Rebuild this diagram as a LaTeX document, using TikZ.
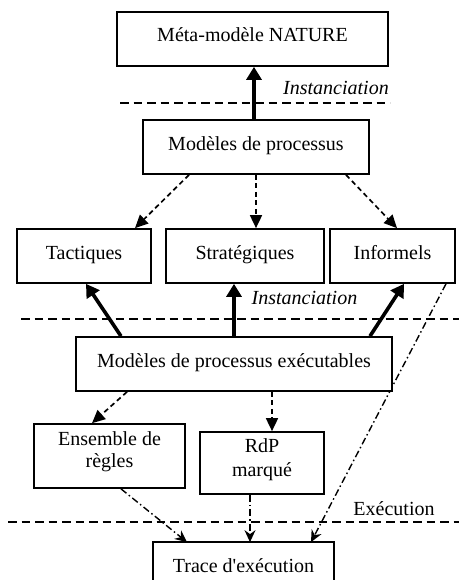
\documentclass[tikz,border=0pt]{standalone}
\usepackage{fontspec}
\setmainfont{Liberation Serif}
\usetikzlibrary{arrows.meta,backgrounds}
\begin{document}
\begin{tikzpicture}[x=1pt,y=-1pt,
  every node/.style={font=\fontsize{20}{23}\selectfont},
  box/.style={draw,line width=1.7pt,fill=white,inner sep=0pt,align=center,text height=10pt,text depth=4pt},
  sepline/.style={line width=1.7pt,dash pattern=on 8.5pt off 5pt},
  thickarrow/.style={line width=3.6pt,-{Triangle[length=13pt,width=15pt]}},
  dasharrow/.style={line width=1.7pt,dash pattern=on 5pt off 3.5pt,-{Triangle[length=13pt,width=12pt]}},
  dotarrow/.style={line width=1.4pt,dash pattern=on 7pt off 3pt on 1.5pt off 3pt,-{Stealth[length=12pt,width=11pt,inset=4pt]}},
  lbl/.style={inner sep=0pt}]
\useasboundingbox (0,0) rectangle (459,580);
\clip (0,0) rectangle (459,580);

\node[box,minimum width=271pt,minimum height=54pt] (meta) at (252.5,39) {Méta-modèle NATURE};
\node[box,minimum width=226pt,minimum height=54pt] (mp) at (256,147) {Modèles de processus};
\node[box,minimum width=134pt,minimum height=54pt] (tac) at (84,256) {Tactiques};
\node[box,minimum width=158pt,minimum height=54pt] (str) at (245,256) {Stratégiques};
\node[box,minimum width=125pt,minimum height=54pt] (inf) at (392.5,256) {Informels};
\node[box,minimum width=316pt,minimum height=54pt] (exe) at (234,364) {Modèles de processus exécutables};
\node[box,minimum width=151pt,minimum height=64pt] (ens) at (109.5,456) {};
\node[lbl,align=center,font=\fontsize{20}{22}\selectfont] (enstext) at ([yshift=4pt]ens.center) {Ensemble de\\règles};
\node[box,minimum width=124pt,minimum height=62pt] (rdp) at (262,463) {};
\node[lbl,align=center,font=\fontsize{20}{24}\selectfont] (rdptext) at ([yshift=3.5pt]rdp.center) {RdP\\marqué};
\node[box,minimum width=181pt,minimum height=54pt] (trace) at (243.5,569) {Trace d\textquotesingle exécution};

\node[lbl,font=\fontsize{20}{23}\selectfont\itshape] (inst1) at (336,88) {Instanciation};
\node[lbl,font=\fontsize{20}{23}\selectfont\itshape] (inst2) at (304.5,298) {Instanciation};
\node[lbl] (exec) at (394,509) {Exécution};

\coordinate (s1a) at (120,103);
\coordinate (s1b) at (390,103);
\coordinate (s2a) at (21,319);
\coordinate (s2b) at (459,319);
\coordinate (s3a) at (8,522);
\coordinate (s3b) at (459,522);

\begin{pgfonlayer}{background}
\draw[sepline] (s1a) -- (s1b);
\draw[sepline] (s2a) -- (s2b);
\draw[sepline] (s3a) -- (s3b);

\draw[thickarrow] ([xshift=-2pt]mp.north) -- ([xshift=1.5pt]meta.south);

\draw[dasharrow] ([xshift=-67pt]mp.south) -- ([xshift=51pt]tac.north);
\draw[dasharrow] (mp.south) -- ([xshift=11pt]str.north);
\draw[dasharrow] ([xshift=90pt]mp.south) -- ([xshift=4.5pt]inf.north);

\draw[thickarrow] ([xshift=-113pt]exe.north) -- ([xshift=2pt]tac.south);
\draw[thickarrow] (exe.north) -- ([xshift=-11pt]str.south);
\draw[thickarrow] ([xshift=136pt]exe.north) -- ([xshift=11.5pt]inf.south);

\draw[dasharrow] ([xshift=-107pt]exe.south) -- ([xshift=-17.5pt]ens.north);
\draw[dasharrow] ([xshift=38pt]exe.south) -- ([xshift=10pt]rdp.north);

\draw[dotarrow] ([xshift=11.5pt]ens.south) -- ([xshift=-56.5pt,yshift=-1pt]trace.north);
\draw[dotarrow] ([xshift=-12pt]rdp.south) -- ([xshift=6.5pt,yshift=-1pt]trace.north);
\draw[dotarrow] ([xshift=53.5pt]inf.south) -- ([xshift=67.5pt,yshift=-1pt]trace.north);
\end{pgfonlayer}
\end{tikzpicture}
\end{document}
